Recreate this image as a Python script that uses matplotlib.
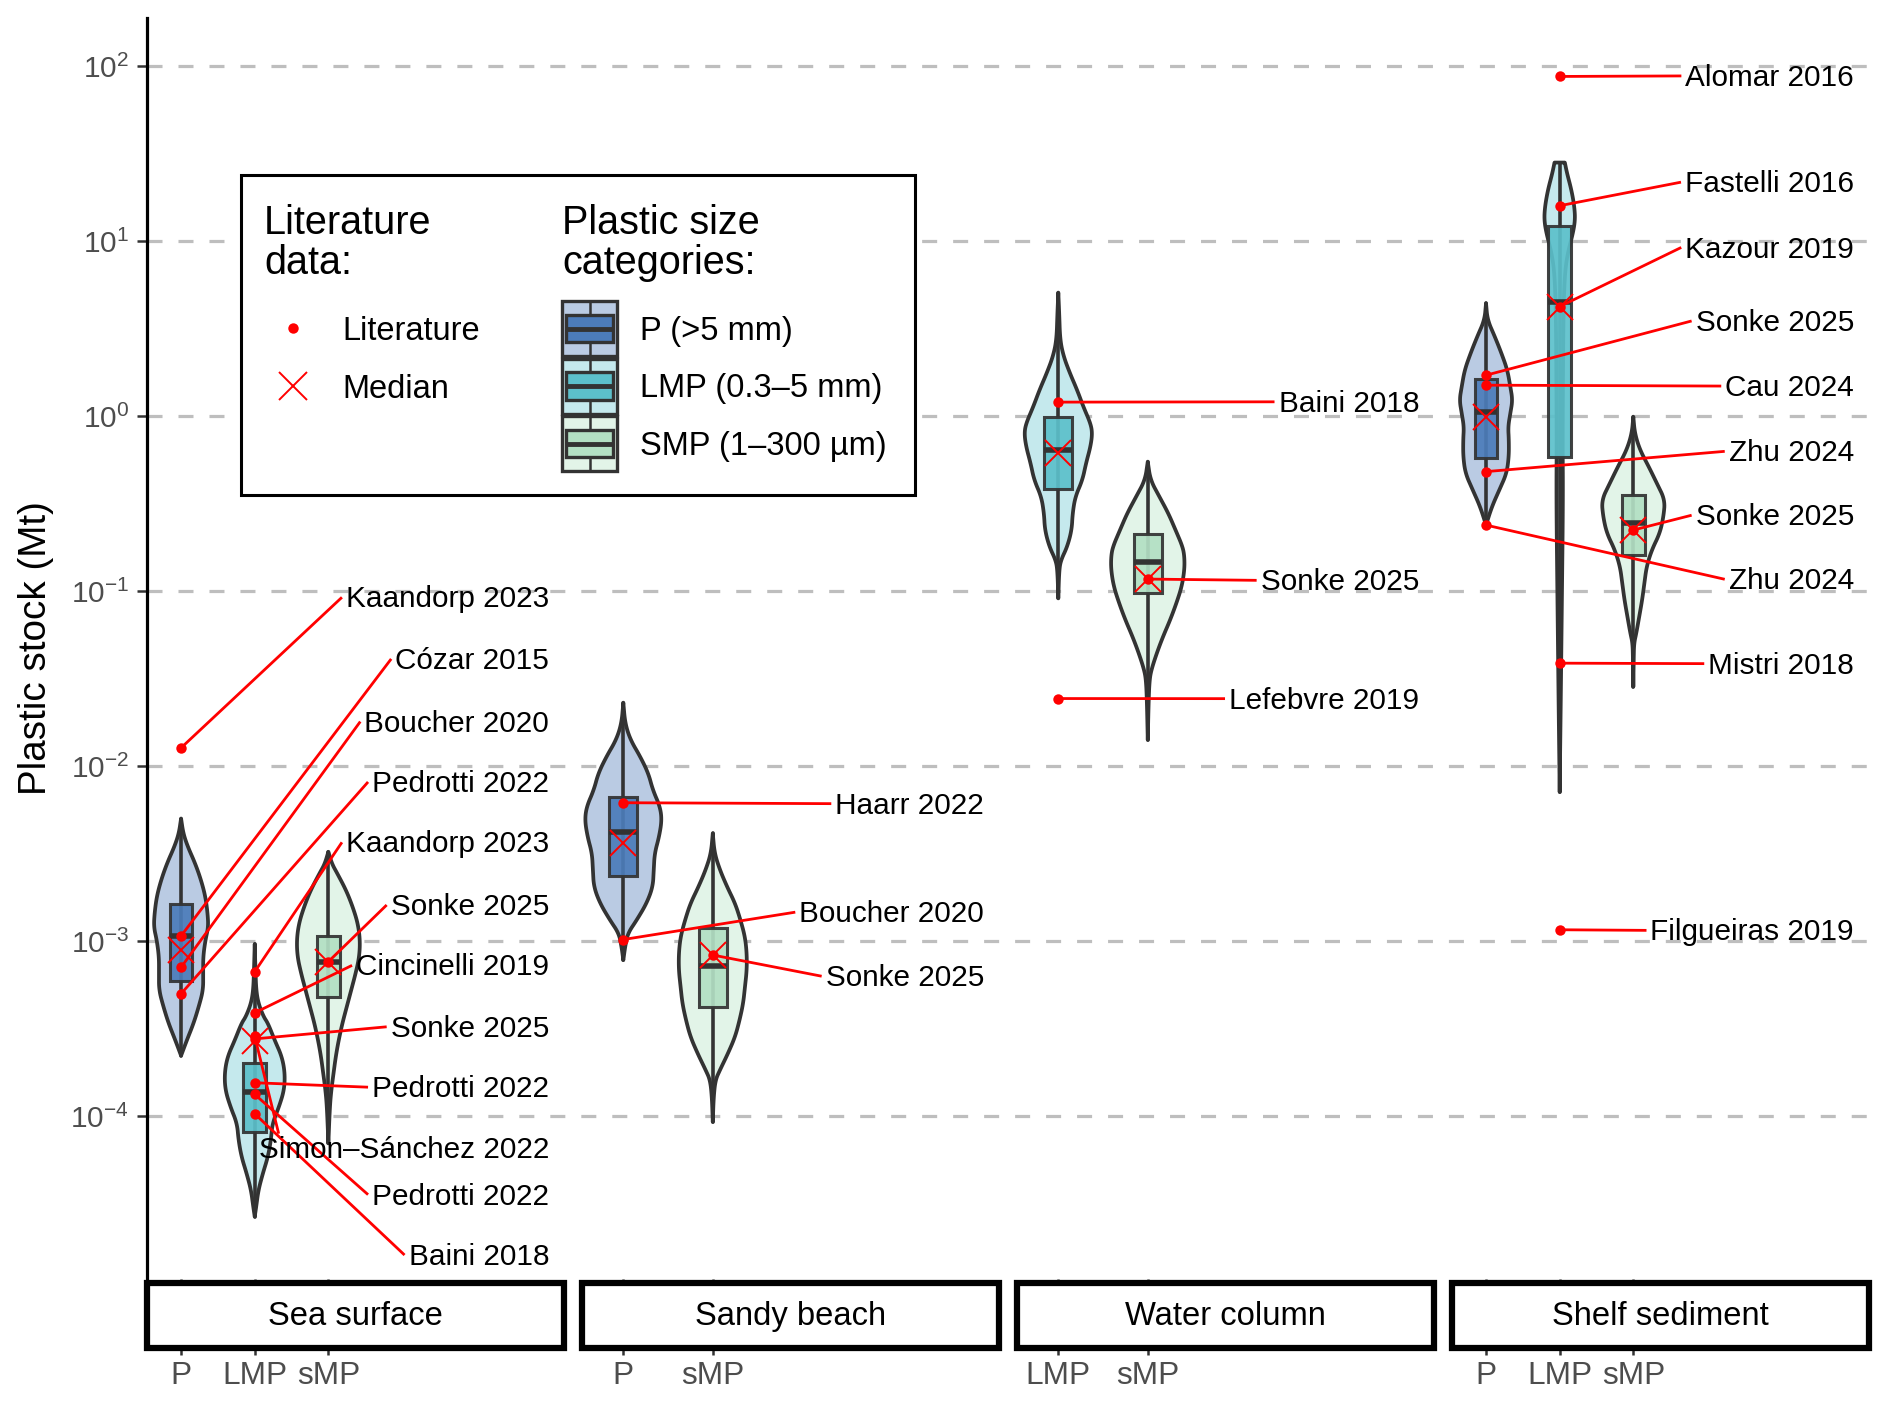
import numpy as np
import matplotlib.pyplot as plt
from matplotlib.patches import Rectangle

plt.rcParams['font.family'] = ['Liberation Sans', 'DejaVu Sans']
plt.rcParams['mathtext.fontset'] = 'custom'
plt.rcParams['mathtext.rm'] = 'Liberation Sans'
plt.rcParams['mathtext.it'] = 'Liberation Sans:italic'
plt.rcParams['mathtext.bf'] = 'Liberation Sans:bold'

# facets and the size categories shown in each
facets = ['Sea surface', 'Sandy beach', 'Water column', 'Shelf sediment']
facet_cats = [['P', 'LMP', 'sMP'], ['P', 'sMP'], ['LMP', 'sMP'], ['P', 'LMP', 'sMP']]

# violins: outline (log10 Mt, half width in category units)
violin_facet = [0, 0, 0, 1, 1, 2, 2, 3, 3, 3]
violin_cat = ['P', 'LMP', 'sMP', 'P', 'sMP', 'LMP', 'sMP', 'P', 'LMP', 'sMP']
violin_log = [
    [-2.30, -2.385, -2.46, -2.555, -2.65, -2.745, -2.84, -2.92, -2.995, -3.09, -3.185, -3.28, -3.375, -3.47, -3.565, -3.655],
    [-3.017, -3.166, -3.28, -3.356, -3.432, -3.47, -3.566, -3.661, -3.756, -3.851, -3.947, -4.042, -4.137, -4.232, -4.328, -4.423, -4.518, -4.575],
    [-2.49, -2.56, -2.613, -2.709, -2.804, -2.899, -2.994, -3.09, -3.185, -3.28, -3.375, -3.47, -3.566, -3.661, -3.756, -3.851, -3.947, -4.156],
    [-1.638, -1.756, -1.851, -1.947, -2.042, -2.137, -2.232, -2.309, -2.404, -2.499, -2.594, -2.69, -2.785, -2.88, -2.956, -3.033, -3.109],
    [-2.385, -2.499, -2.594, -2.69, -2.785, -2.88, -2.975, -3.07, -3.166, -3.261, -3.356, -3.451, -3.547, -3.642, -3.737, -3.794, -3.89, -4.034],
    [0.705, 0.587, 0.434, 0.339, 0.244, 0.149, 0.053, -0.042, -0.099, -0.175, -0.27, -0.366, -0.461, -0.556, -0.651, -0.747, -0.823, -0.88, -1.042],
    [-0.261, -0.366, -0.461, -0.556, -0.651, -0.747, -0.804, -0.88, -0.975, -1.07, -1.166, -1.261, -1.356, -1.451, -1.509, -1.623, -1.851],
    [0.644, 0.549, 0.453, 0.358, 0.263, 0.168, 0.091, 0.015, -0.061, -0.137, -0.232, -0.328, -0.423, -0.518, -0.623],
    [1.448, 1.387, 1.291, 1.196, 1.12, 1.044, 0.949, 0.853, 0.72, 0.53, 0.244, -0.137, -0.48, -1.051, -1.623, -1.966, -2.149],
    [-0.004, -0.099, -0.194, -0.29, -0.385, -0.48, -0.575, -0.67, -0.766, -0.861, -0.956, -1.051, -1.147, -1.242, -1.299, -1.394, -1.547],
]
violin_width = [
    [0, .03, .09, .19, .27, .33, .36, .37, .33, .30, .30, .30, .24, .17, .08, 0],
    [0, .01, .02, .05, .12, .18, .27, .37, .41, .40, .33, .24, .22, .18, .11, .05, .02, 0],
    [0, .05, .12, .24, .33, .40, .43, .42, .37, .31, .25, .19, .14, .10, .07, .04, .02, 0],
    [0, .02, .08, .19, .28, .33, .41, .43, .40, .35, .34, .33, .26, .15, .05, .02, 0],
    [0, .02, .08, .16, .25, .31, .36, .38, .38, .36, .34, .30, .25, .17, .08, .03, .01, 0],
    [0, .01, .02, .06, .13, .21, .28, .36, .38, .36, .31, .27, .19, .16, .15, .10, .03, .01, 0],
    [0, .03, .13, .23, .31, .39, .41, .41, .38, .32, .25, .17, .10, .04, .02, .01, 0],
    [0, .02, .12, .21, .29, .33, .36, .33, .30, .31, .31, .28, .18, .08, 0],
    [.07, .10, .16, .20, .21, .18, .12, .08, .06, .05, .045, .04, .045, .03, .015, .005, 0],
    [0, .02, .09, .21, .32, .43, .41, .36, .25, .18, .15, .12, .08, .04, .01, .005, 0],
]

# box statistics (Mt), same order as the violins
box_q1 = [5.90e-4, 8.11e-5, 4.79e-4, 2.35e-3, 4.22e-4, 0.381, 0.0971, 0.573, 0.586, 0.161]
box_med = [1.07e-3, 1.37e-4, 7.59e-4, 4.22e-3, 7.23e-4, 0.640, 0.147, 1.06, 4.47, 0.244]
box_q3 = [1.63e-3, 2.01e-4, 1.07e-3, 6.62e-3, 1.18e-3, 0.991, 0.212, 1.62, 12.2, 0.354]
model_median = [8.9e-4, 2.69e-4, 7.62e-4, 3.61e-3, 8.32e-4, 0.612, 0.117, 0.99, 4.22, 0.223]

# literature values (Mt)
lit_facet = [0] * 12 + [1] * 3 + [2] * 3 + [3] * 10
lit_cat = ['P', 'P', 'P', 'P', 'LMP', 'sMP', 'LMP', 'LMP', 'LMP', 'LMP', 'LMP', 'LMP',
           'P', 'P', 'sMP',
           'LMP', 'sMP', 'LMP',
           'LMP', 'LMP', 'LMP', 'P', 'P', 'P', 'sMP', 'P', 'LMP', 'LMP']
lit_value = [1.27e-2, 1.07e-3, 7.08e-4, 5.0e-4, 6.68e-4, 7.62e-4, 3.89e-4, 2.76e-4, 1.55e-4, 2.85e-4, 1.33e-4, 1.03e-4,
             6.17e-3, 1.02e-3, 8.32e-4,
             1.20, 0.117, 0.0243,
             87.1, 15.9, 4.22, 1.71, 1.50, 0.481, 0.223, 0.238, 0.0387, 1.16e-3]
lit_label = ['Kaandorp 2023', 'Cózar 2015', 'Boucher 2020', 'Pedrotti 2022', 'Kaandorp 2023', 'Sonke 2025',
             'Cincinelli 2019', 'Sonke 2025', 'Pedrotti 2022', 'Simon–Sánchez 2022', 'Pedrotti 2022', 'Baini 2018',
             'Haarr 2022', 'Boucher 2020', 'Sonke 2025',
             'Baini 2018', 'Sonke 2025', 'Lefebvre 2019',
             'Alomar 2016', 'Fastelli 2016', 'Kazour 2019', 'Sonke 2025', 'Cau 2024', 'Zhu 2024', 'Sonke 2025',
             'Zhu 2024', 'Mistri 2018', 'Filgueiras 2019']
# where the repelled labels sit (log10 of y)
label_log = [-1.036, -1.388, -1.746, -2.091, -2.436, -2.794, -3.139, -3.49, -3.835, -4.18, -4.449, -4.794,
             -2.215, -2.835, -3.201,
             0.081, -0.939, -1.615,
             1.943, 1.336, 0.963, 0.543, 0.171, -0.202, -0.567, -0.933, -1.415, -2.939]

fill_light = {'P': '#BACBE3', 'LMP': '#C5E9ED', 'sMP': '#E2F4E8'}
fill_dark = {'P': '#4C7CBA', 'LMP': '#5CC0CB', 'sMP': '#B3E0C4'}
edge = '#333333'

gap = 15 / 345


def xpos(fi, cat):
    cats = facet_cats[fi]
    lo, hi = 0.54, len(cats) + 3.2
    unit = 1.0 / (hi - lo)
    return fi * (1 + gap) + (cats.index(cat) + 1 - lo) * unit, unit


def chaikin(a, b, n=3):
    a, b = np.asarray(a, float), np.asarray(b, float)
    for _ in range(n):
        qa = 0.75 * a[:-1] + 0.25 * a[1:]
        ra = 0.25 * a[:-1] + 0.75 * a[1:]
        qb = 0.75 * b[:-1] + 0.25 * b[1:]
        rb = 0.25 * b[:-1] + 0.75 * b[1:]
        a = np.concatenate([[a[0]], np.column_stack([qa, ra]).ravel(), [a[-1]]])
        b = np.concatenate([[b[0]], np.column_stack([qb, rb]).ravel(), [b[-1]]])
    return a, b


fig = plt.figure(figsize=(18.92, 14.08), dpi=100)
ax = fig.add_axes([147.2 / 1892, 1 - 1279 / 1408, (1869 - 147.2) / 1892, 1261 / 1408])
ax.set_yscale('log')
ax.set_xlim(0, 4 + 3 * gap)
ax.set_ylim(10 ** -4.931, 10 ** 2.274)

# violins and boxes
for i in range(len(violin_cat)):
    cx, unit = xpos(violin_facet[i], violin_cat[i])
    ly, hw = chaikin(violin_log[i], violin_width[i])
    yy = 10 ** ly
    xs = np.concatenate([cx - hw * unit, (cx + hw * unit)[::-1]])
    ys = np.concatenate([yy, yy[::-1]])
    ax.fill(xs, ys, facecolor=fill_light[violin_cat[i]], edgecolor=edge, lw=2.7,
            joinstyle='round', zorder=2)
    ax.plot([cx, cx], [10 ** violin_log[i][0], 10 ** violin_log[i][-1]], color=edge, lw=2.6,
            solid_capstyle='round', zorder=3)
    bw = 0.31 * unit
    ax.add_patch(Rectangle((cx - bw / 2, box_q1[i]), bw, box_q3[i] - box_q1[i],
                           facecolor=fill_dark[violin_cat[i]], edgecolor=edge, lw=2.2, alpha=0.92, zorder=4))
    ax.plot([cx - bw / 2, cx + bw / 2], [box_med[i]] * 2, color=edge, lw=4.0,
            solid_capstyle='butt', zorder=5)
    ax.plot(cx, model_median[i], 'x', color='red', ms=19, mew=1.4, zorder=7)

# literature points and labels
texts, pts = [], []
for k in range(len(lit_value)):
    fi = lit_facet[k]
    px, _ = xpos(fi, lit_cat[k])
    xr = fi * (1 + gap) + 1 - 0.036
    t = ax.text(xr, 10 ** (label_log[k] - 0.012), lit_label[k], ha='right', va='center',
                fontsize=21.4, color='black', zorder=8)
    texts.append(t)
    pts.append((px, lit_value[k]))
    ax.plot(px, lit_value[k], 'o', color='red', ms=7.5, mec='none', zorder=7)

# axis styling
ax.spines[['top', 'right', 'bottom']].set_visible(False)
ax.spines['left'].set_linewidth(2.3)
ax.set_yticks([10.0 ** e for e in range(-4, 3)])
ax.set_yticklabels([r'$10^{%d}$' % e for e in range(-4, 3)])
ax.minorticks_off()
ax.tick_params(axis='y', length=7, width=1.8, color=edge, labelsize=21.5, labelcolor='#4D4D4D', pad=6)
ax.set_axisbelow(True)
ax.yaxis.grid(True, color='#BEBEBE', lw=2.3, linestyle=(0, (4.7, 5.0)))

xt, xl = [], []
for fi, cats in enumerate(facet_cats):
    for c in cats:
        xt.append(xpos(fi, c)[0])
        xl.append(c)
ax.set_xticks(xt)
ax.set_xticklabels(xl)
ax.tick_params(axis='x', length=54.7, width=1.8, color=edge, labelsize=22.8, labelcolor='#4D4D4D', pad=4)

# facet strips below the panel
trans = ax.get_xaxis_transform()
for fi, name in enumerate(facets):
    x0 = fi * (1 + gap)
    ax.add_patch(Rectangle((x0, -0.0546), 1, 0.0517, transform=trans, clip_on=False,
                           facecolor='white', edgecolor='black', lw=4.5, zorder=10))
    ax.text(x0 + 0.5, -0.0295, name, transform=trans, ha='center', va='center',
            fontsize=23.6, zorder=11, clip_on=False)

fig.text(36 / 1892, 1 - 648 / 1408, 'Plastic stock (Mt)', rotation=90, fontsize=27.8,
         ha='center', va='center')

# connector segments from points to labels
fig.canvas.draw()
r = fig.canvas.get_renderer()
inv = ax.transData.inverted()
for k, (t, (px, py)) in enumerate(zip(texts, pts)):
    bb = t.get_window_extent(r)
    dx, dy = ax.transData.transform((px, py))
    cy = ax.transData.transform((px, 10 ** label_log[k]))[1]
    if dx < bb.x0 - 15:
        ex, ey = bb.x0 - 4, cy
    else:
        ex = min(max(dx, bb.x0 + 20), bb.x1)
        ey = bb.y1 + 2 if dy > bb.y1 else (bb.y0 - 2 if dy < bb.y0 else cy)
    ex, ey = inv.transform((ex, ey))
    ax.plot([px, ex], [py, ey], color='red', lw=2.0, zorder=6, solid_capstyle='butt')

# legend drawn in pixel coordinates on top
lg = fig.add_axes([0, 0, 1, 1])
lg.set_xlim(0, 1892)
lg.set_ylim(1408, 0)
lg.axis('off')
lg.add_patch(Rectangle((241.3, 175), 673.3, 319.7, facecolor='white', edgecolor='black', lw=2.2))
lg.text(264, 243, 'Literature\ndata:', fontsize=28.5, ha='left', va='center', linespacing=1.1)
lg.text(562, 243, 'Plastic size\ncategories:', fontsize=28.5, ha='left', va='center', linespacing=1.1)
lg.plot(293, 328, 'o', color='red', ms=7.5, mec='none')
lg.plot(293, 386, 'x', color='red', ms=20, mew=1.4)
lg.text(342.7, 331, 'Literature', fontsize=23.5, ha='left', va='center')
lg.text(342.7, 389, 'Median', fontsize=23.5, ha='left', va='center')

legend_labels = ['P (>5 mm)', 'LMP (0.3–5 mm)', 'SMP (1–300 µm)']
for j, (cat, lab) in enumerate(zip(['P', 'LMP', 'sMP'], legend_labels)):
    kx, ky, ks = 562, 301 + 57.5 * j, 55
    lg.add_patch(Rectangle((kx, ky), ks, ks, facecolor=fill_light[cat], edgecolor=edge, lw=2.4))
    bx, by, bw, bh = kx + 0.08 * ks, ky + 0.25 * ks, 0.84 * ks, 0.5 * ks
    lg.plot([kx + ks / 2] * 2, [ky, by], color=edge, lw=1.8)
    lg.plot([kx + ks / 2] * 2, [by + bh, ky + ks], color=edge, lw=1.8)
    lg.add_patch(Rectangle((bx, by), bw, bh, facecolor=fill_dark[cat], edgecolor=edge, lw=2.4))
    lg.plot([bx, bx + bw], [ky + ks / 2] * 2, color=edge, lw=3.5, solid_capstyle='butt')
    lg.text(639.5, ky + ks / 2 + 3, lab, fontsize=23.5, ha='left', va='center')

fig.savefig('out.png', dpi=100)
